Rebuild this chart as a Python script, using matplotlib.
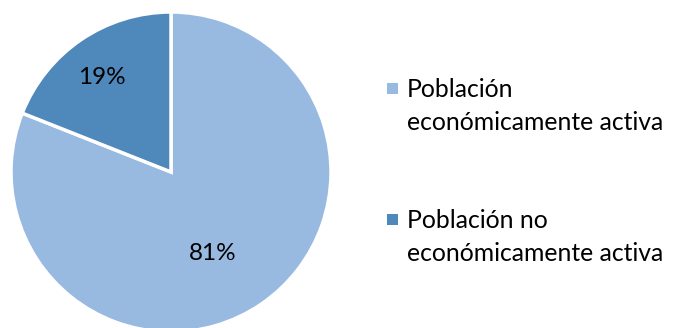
import numpy as np
import matplotlib.pyplot as plt
from matplotlib.patches import Rectangle

# datos
labels = ["Población\neconómicamente activa", "Población no\neconómicamente activa"]
values = [81, 19]
colors = ["#98B9E0", "#4F88BB"]
label_r = [0.57, 0.73]
label_shift = [-7, 2]  # grados, ajuste de posicion de etiquetas

plt.rcParams["font.family"] = ["Lato", "DejaVu Sans"]

W, H = 674, 328
fig = plt.figure(figsize=(W / 100, H / 100), dpi=100)

# pie: centro ~ (171, 172) px, radio ~160 px
cx, cy, r = 171, 172, 160
ax = fig.add_axes([(cx - r) / W, (H - cy - r) / H, 2 * r / W, 2 * r / H])
wedges, texts, autotexts = ax.pie(
    values, colors=colors, startangle=90, counterclock=False,
    autopct="%1.0f%%", pctdistance=0.65,
    wedgeprops=dict(edgecolor="white", linewidth=2.5),
    textprops=dict(fontsize=17.5, color="black"),
)
for w, t, rr, sh in zip(wedges, autotexts, label_r, label_shift):
    ang = np.deg2rad((w.theta1 + w.theta2) / 2 + sh)
    t.set_position((rr * np.cos(ang), rr * np.sin(ang)))
ax.set_xlim(-1.0, 1.0)
ax.set_ylim(-1.0, 1.0)
ax.set_aspect("equal")
for w in wedges:
    w.set_clip_on(False)

# leyenda manual
baselines = [97, 228]
line_gap = 33
for lab, col, yb in zip(labels, colors, baselines):
    fig.patches.append(Rectangle((387 / W, (H - yb + 3) / H), 11 / W, 11 / H,
                                 transform=fig.transFigure, facecolor=col,
                                 edgecolor="none"))
    for i, line in enumerate(lab.split("\n")):
        fig.text(407 / W, (H - yb - i * line_gap) / H, line, fontsize=17.8,
                 va="baseline", ha="left")

fig.savefig("out.png", dpi=100)
